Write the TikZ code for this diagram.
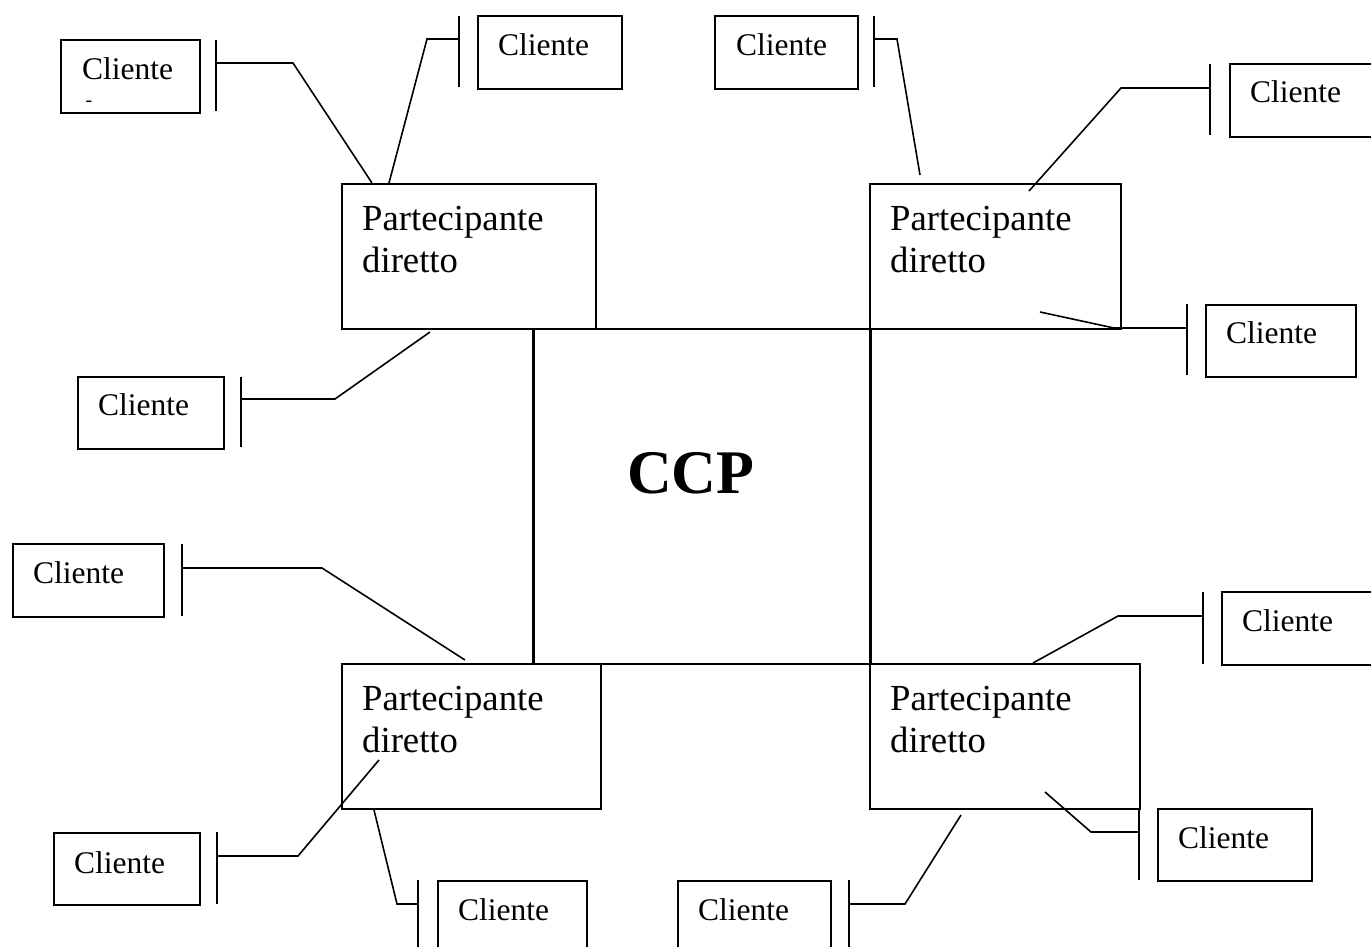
\documentclass[tikz,border=0pt]{standalone}
\usepackage{fontspec}
\setmainfont{Liberation Serif}
\begin{document}
\begin{tikzpicture}[x=1pt,y=-1pt,
  box/.style={draw, line width=2pt, inner sep=0pt, anchor=north west},
  ctext/.style={anchor=base west, inner sep=0pt, font=\fontsize{31.5}{36}\selectfont},
  ptext/.style={anchor=base west, inner sep=0pt, font=\fontsize{36.7}{42}\selectfont},
  conn/.style={line width=1.6pt},
  barline/.style={line width=1.6pt}]
\useasboundingbox[fill=white] (0,0) rectangle (1371,947);

% ---------- CCP ----------
\node[box, minimum width=336pt, minimum height=335pt] (ccp) at (533,328) {};
\node[anchor=base west, inner sep=0pt, font=\fontsize{62}{70}\selectfont\bfseries] (ccpt) at (627,493) {CCP};

% ---------- Partecipanti diretti ----------
\node[box, fill=white, minimum width=254pt, minimum height=145pt] (p1) at (341,183) {};
\node[ptext] (p1a) at (362,230) {Partecipante};
\node[ptext] (p1b) at (362,272) {diretto};

\node[box, fill=white, minimum width=251pt, minimum height=145pt] (p2) at (869,183) {};
\node[ptext] (p2a) at (890,230) {Partecipante};
\node[ptext] (p2b) at (890,272) {diretto};

\node[box, fill=white, minimum width=259pt, minimum height=145pt] (p3) at (341,663) {};
\node[ptext] (p3a) at (362,710) {Partecipante};
\node[ptext] (p3b) at (362,752) {diretto};

\node[box, fill=white, minimum width=270pt, minimum height=145pt] (p4) at (869,663) {};
\node[ptext] (p4a) at (890,710) {Partecipante};
\node[ptext] (p4b) at (890,752) {diretto};

% redraw CCP frame segments over the white fills
\draw[line width=2pt] (ccp.north west) -- (ccp.south west);
\draw[line width=2pt] (ccp.north east) -- (ccp.south east);

% ---------- Clienti ----------
\node[box, minimum width=139pt, minimum height=73pt] (c1) at (60,39) {};
\node[ctext] (c1t) at (82,80) {Cliente};
\node[anchor=center, inner sep=0pt, font=\fontsize{20}{24}\selectfont] (c1d) at (89,104) {-};

\node[box, minimum width=144pt, minimum height=73pt] (c2) at (477,15) {};
\node[ctext] (c2t) at (498,56) {Cliente};

\node[box, minimum width=143pt, minimum height=73pt] (c3) at (714,15) {};
\node[ctext] (c3t) at (736,56) {Cliente};

\node[box, minimum width=146pt, minimum height=73pt] (c4) at (1229,63) {};
\node[ctext] (c4t) at (1250,103) {Cliente};

\node[box, minimum width=150pt, minimum height=72pt] (c5) at (1205,304) {};
\node[ctext] (c5t) at (1226,343) {Cliente};

\node[box, minimum width=146pt, minimum height=72pt] (c6) at (77,376) {};
\node[ctext] (c6t) at (98,415) {Cliente};

\node[box, minimum width=151pt, minimum height=73pt] (c7) at (12,543) {};
\node[ctext] (c7t) at (33,583) {Cliente};

\node[box, minimum width=152pt, minimum height=73pt] (c8) at (1221,591) {};
\node[ctext] (c8t) at (1242,631) {Cliente};

\node[box, minimum width=146pt, minimum height=72pt] (c9) at (53,832) {};
\node[ctext] (c9t) at (74,873) {Cliente};

\node[box, minimum width=149pt, minimum height=72pt] (c10) at (437,880) {};
\node[ctext] (c10t) at (458,920) {Cliente};

\node[box, minimum width=153pt, minimum height=72pt] (c11) at (677,880) {};
\node[ctext] (c11t) at (698,920) {Cliente};

\node[box, minimum width=154pt, minimum height=72pt] (c12) at (1157,808) {};
\node[ctext] (c12t) at (1178,848) {Cliente};

% ---------- connector points ----------
\coordinate (b1a) at (216,40);   \coordinate (b1b) at (216,111);
\coordinate (k1a) at (216,63);   \coordinate (k1b) at (293,63);   \coordinate (e1) at (372,183);

\coordinate (b2a) at (459,16);   \coordinate (b2b) at (459,87);
\coordinate (k2a) at (459,39);   \coordinate (k2b) at (427,39);   \coordinate (e2) at (389,183);

\coordinate (b3a) at (874,16);   \coordinate (b3b) at (874,87);
\coordinate (k3a) at (874,39);   \coordinate (k3b) at (897,39);   \coordinate (e3) at (920,175);

\coordinate (b4a) at (1210,64);  \coordinate (b4b) at (1210,135);
\coordinate (k4a) at (1210,88);  \coordinate (k4b) at (1121,88);  \coordinate (e4) at (1029,191);

\coordinate (b5a) at (1187,304); \coordinate (b5b) at (1187,375);
\coordinate (k5a) at (1187,328); \coordinate (k5b) at (1114,328); \coordinate (e5) at (1040,312);

\coordinate (b6a) at (241,377);  \coordinate (b6b) at (241,447);
\coordinate (k6a) at (241,399);  \coordinate (k6b) at (335,399);  \coordinate (e6) at (430,332);

\coordinate (b7a) at (182,544);  \coordinate (b7b) at (182,616);
\coordinate (k7a) at (182,568);  \coordinate (k7b) at (322,568);  \coordinate (e7) at (465,660);

\coordinate (b8a) at (1203,592); \coordinate (b8b) at (1203,664);
\coordinate (k8a) at (1203,616); \coordinate (k8b) at (1118,616); \coordinate (e8) at (1033,663);

\coordinate (b9a) at (217,832);  \coordinate (b9b) at (217,904);
\coordinate (k9a) at (217,856);  \coordinate (k9b) at (298,856);  \coordinate (e9) at (379,760);

\coordinate (b10a) at (418,880); \coordinate (b10b) at (418,950);
\coordinate (k10a) at (418,904); \coordinate (k10b) at (397,904); \coordinate (e10) at (374,810);

\coordinate (b11a) at (849,880); \coordinate (b11b) at (849,950);
\coordinate (k11a) at (849,904); \coordinate (k11b) at (905,904); \coordinate (e11) at (961,815);

\coordinate (b12a) at (1139,808); \coordinate (b12b) at (1139,880);
\coordinate (k12a) at (1139,832); \coordinate (k12b) at (1091,832); \coordinate (e12) at (1045,792);

% ---------- bars and connectors ----------
\foreach \i in {1,...,12}{
  \draw[barline] (b\i a) -- (b\i b);
  \draw[conn] (k\i a) -- (k\i b) -- (e\i);
}
\end{tikzpicture}
\end{document}
